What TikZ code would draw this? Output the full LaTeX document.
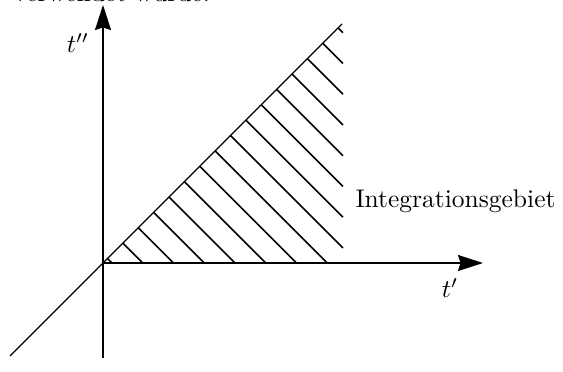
\documentclass[tikz,border=0pt]{standalone}
\usetikzlibrary{arrows.meta,calc}
\begin{document}
\begin{tikzpicture}[x=1pt,y=1pt,
  axis/.style={line width=1.2pt,-{Stealth[length=25pt,width=16pt,inset=2.5pt]}},
  hatch/.style={line width=1.5pt},
  lbl/.style={inner sep=0pt,scale=2.55}]
\useasboundingbox (0,0) rectangle (563,372);
\coordinate (O) at (103,109);
\coordinate (ybot) at (103,14);
\coordinate (ytop) at (103,367);
\coordinate (xend) at (483,109);
\coordinate (dlo) at (10,16);
\coordinate (dhi) at (342,348);
\draw[line width=1.1pt] (dlo) -- (dhi);
\draw[axis] (ybot) -- (ytop);
\draw[axis] (O) -- (xend);
\foreach \k in {0,...,15}{
  \pgfmathsetmacro{\c}{9+30.75*\k}
  \pgfmathsetmacro{\h}{\c/2}
  \ifdim \c pt > 240pt
    \pgfmathsetmacro{\e}{\c-240}
    \draw[hatch] ($(O)+(\h,\h)$) -- ($(O)+(240,\e)$);
  \else
    \draw[hatch] ($(O)+(\h,\h)$) -- ($(O)+(\c,0)$);
  \fi
}
\node[lbl] (tpp) at (78,329) {$t''$};
\node[lbl] (tp) at (450,84) {$t'$};
\node[lbl,anchor=base west] (ig) at (355,164) {Integrationsgebiet};
\node[lbl,anchor=base west] (top) at (13,370) {verwendet wurde.};
\end{tikzpicture}
\end{document}
